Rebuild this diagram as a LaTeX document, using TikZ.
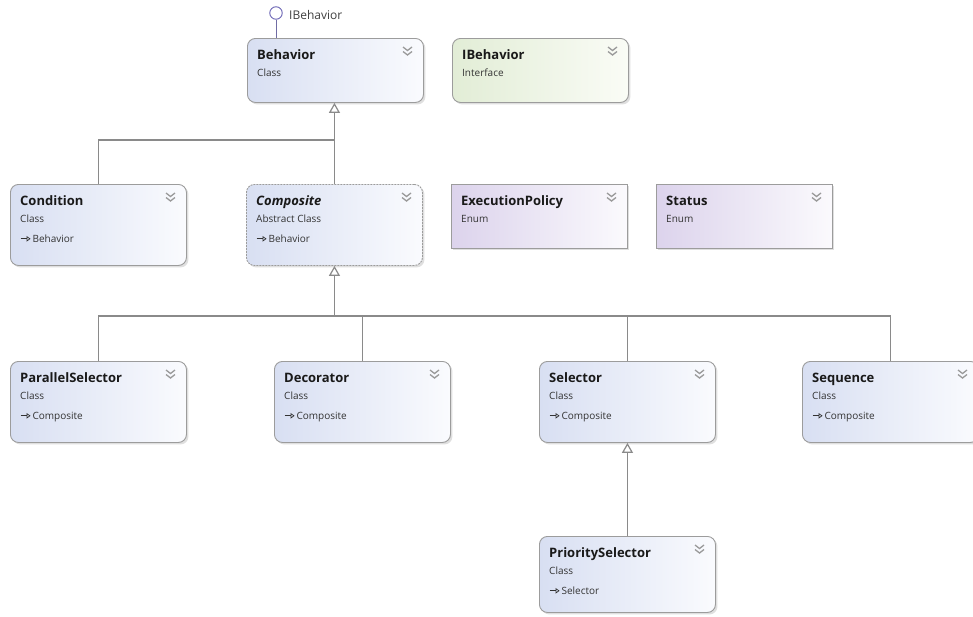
\documentclass[tikz,border=0pt]{standalone}
\usepackage{fontspec}
\setmainfont{Open Sans}
\usetikzlibrary{arrows.meta,shadows,calc}

\definecolor{classleft}{HTML}{D8DFF2}
\definecolor{classright}{HTML}{FAFBFE}
\definecolor{ifaceleft}{HTML}{E2EDD6}
\definecolor{ifaceright}{HTML}{FAFCF6}
\definecolor{enumleft}{HTML}{DCD3EC}
\definecolor{enumright}{HTML}{FBFAFD}
\definecolor{boxline}{HTML}{9C9C9C}
\definecolor{wire}{HTML}{8A8A8A}
\definecolor{chevgray}{HTML}{9A9A9A}
\definecolor{lolli}{HTML}{6A64B4}

\tikzset{
  umlbase/.style={draw=boxline, line width=0.9pt, minimum width=176pt,
    anchor=north west, inner sep=0pt,
    drop shadow={shadow xshift=2pt, shadow yshift=-2pt, opacity=0.25}},
  classbox/.style={umlbase, rounded corners=8pt, left color=classleft, right color=classright},
  abstractbox/.style={classbox, dash pattern=on 2pt off 1pt},
  ifacebox/.style={umlbase, rounded corners=8pt, left color=ifaceleft, right color=ifaceright},
  enumbox/.style={umlbase, left color=enumleft, right color=enumright},
  titletext/.style={anchor=base west, inner sep=0pt, font=\fontsize{13}{15}\selectfont\bfseries, text=black!90},
  kindtext/.style={anchor=base west, inner sep=0pt, font=\fontsize{10}{12}\selectfont, text=black!80},
  chevron/.style={draw=chevgray, line width=1.3pt},
  wireline/.style={draw=wire, line width=1.2pt},
  inherit/.style={wireline, -{Triangle[open, length=10pt, width=11pt, fill=white]}},
}

% small "derives from" arrow used in front of a base class name
\newcommand\derivemark{\tikz[x=1pt,y=1pt,baseline=0pt]{\draw[line width=0.7pt,-{Triangle[open,length=4pt,width=5.5pt]}] (0,3.2) -- (10,3.2);}}

% \umlbox{name}{style}{x}{y}{height}{title}{kind}
\newcommand\umlbox[7]{%
  \node[#2, minimum height=#5pt] (#1) at (#3,#4) {};
  \node[titletext] (#1-title) at (#3+10,#4+21) {#6};
  \node[kindtext] (#1-kind) at (#3+10,#4+38) {#7};
  \draw[chevron] (#3+156,#4+9) -- (#3+160.5,#4+12.5) -- (#3+165,#4+9)
                 (#3+156,#4+13.5) -- (#3+160.5,#4+17) -- (#3+165,#4+13.5);
}
% \baseof{name}{x}{y}{base class}
\newcommand\baseof[4]{%
  \node[kindtext] (#1-base) at (#2+10,#3+58) {\derivemark\,#4};
}

\begin{document}
\begin{tikzpicture}[x=1pt,y=-1pt]
  \useasboundingbox[fill=white] (0,0) rectangle (973,616);

  % top row
  \umlbox{behavior}{classbox}{247}{38}{64}{Behavior}{Class}
  \umlbox{ibehavior}{ifacebox}{452}{38}{64}{IBehavior}{Interface}

  % provided interface lollipop
  \node[draw=lolli, circle, line width=0.9pt, minimum size=12.5pt, inner sep=0pt] (lolli) at (276,13) {};
  \node[anchor=base west, inner sep=0pt, font=\fontsize{12}{14}\selectfont, text=black!75] (lolli-label) at (289,19) {IBehavior};
  \draw[draw=lolli!70!gray, line width=1pt] (lolli.south) -- (lolli.south |- behavior.north);

  % second row
  \umlbox{condition}{classbox}{10}{184}{81}{Condition}{Class}
  \baseof{condition}{10}{184}{Behavior}
  \umlbox{composite}{abstractbox}{246}{184}{81}{\itshape Composite}{Abstract Class}
  \baseof{composite}{246}{184}{Behavior}
  \umlbox{execpolicy}{enumbox}{451}{184}{64}{ExecutionPolicy}{Enum}
  \umlbox{status}{enumbox}{656}{184}{64}{Status}{Enum}

  % third row
  \umlbox{parallel}{classbox}{10}{361}{81}{ParallelSelector}{Class}
  \baseof{parallel}{10}{361}{Composite}
  \umlbox{decorator}{classbox}{274}{361}{81}{Decorator}{Class}
  \baseof{decorator}{274}{361}{Composite}
  \umlbox{selector}{classbox}{539}{361}{81}{Selector}{Class}
  \baseof{selector}{539}{361}{Composite}
  \umlbox{sequence}{classbox}{802}{361}{81}{Sequence}{Class}
  \baseof{sequence}{802}{361}{Composite}

  % bottom row
  \umlbox{priority}{classbox}{539}{536}{76}{PrioritySelector}{Class}
  \baseof{priority}{539}{536}{Selector}

  % inheritance from Behavior
  \coordinate (bjoin) at (composite.north |- 0,140);
  \draw[wireline] (condition.north) |- (bjoin);
  \draw[inherit] (composite.north) -- (composite.north |- behavior.south);

  % inheritance from Composite
  \coordinate (cjoin) at (composite.south |- 0,316);
  \draw[wireline] (parallel.north) |- (cjoin);
  \draw[wireline] (sequence.north) |- (cjoin);
  \draw[wireline] (decorator.north) -- (decorator.north |- cjoin);
  \draw[wireline] (selector.north) -- (selector.north |- cjoin);
  \draw[inherit] (cjoin) -- (composite.south);

  % inheritance from Selector
  \draw[inherit] (priority.north) -- (selector.south);
\end{tikzpicture}
\end{document}
